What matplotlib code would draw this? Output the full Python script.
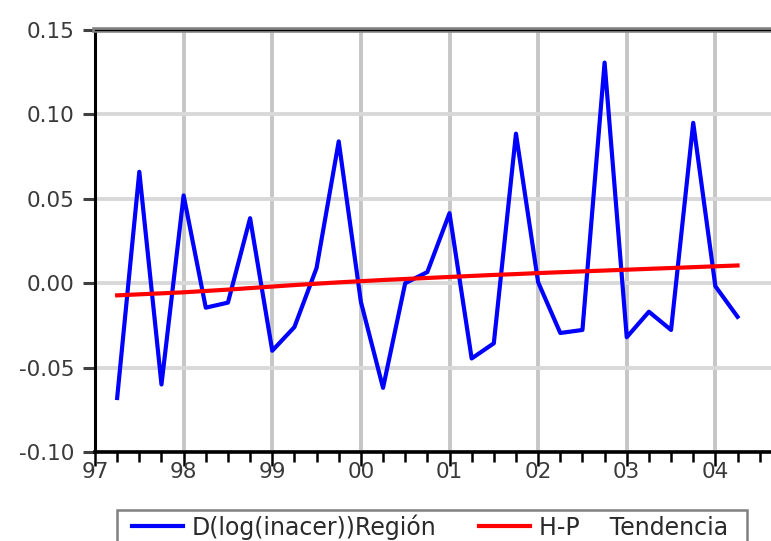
import matplotlib.pyplot as plt
import matplotlib.patches as mpatches
import pandas as pd

# quarterly series, 1997Q2 - 2004Q2
quarters = pd.period_range('1997Q2', '2004Q2', freq='Q')

region = [-0.068, 0.066, -0.060, 0.052, -0.0145, -0.0115, 0.0385, -0.040,
          -0.026, 0.009, 0.084, -0.011, -0.062, 0.000, 0.0066, 0.0415,
          -0.0446, -0.0356, 0.0886, 0.0006, -0.0295, -0.0277, 0.1307, -0.032,
          -0.0169, -0.0277, 0.095, -0.0018, -0.0199]

hp_trend = [-0.0072, -0.0066, -0.0060, -0.0054, -0.0046, -0.0038, -0.0029, -0.0020,
            -0.0011, -0.0003, 0.0005, 0.0012, 0.0019, 0.0025, 0.0031, 0.0037,
            0.0043, 0.0049, 0.0054, 0.0060, 0.0065, 0.0070, 0.0075, 0.0080,
            0.0085, 0.0090, 0.0095, 0.0100, 0.0105]

years = list(range(1997, 2005))
year_labels = ['97', '98', '99', '00', '01', '02', '03', '04']
y_ticks = [-0.10, -0.05, 0.00, 0.05, 0.10, 0.15]
y_labels = ['-0.10', '-0.05', '0.00', '0.05', '0.10', '0.15']

x = quarters.year + (quarters.quarter - 1) / 4

fig = plt.figure(figsize=(7.71, 5.41), dpi=100)
ax = fig.add_axes([95 / 771, 89 / 541, 709 / 771, 422 / 541])

ax.plot(x, region, color='#0000ff', lw=3.0, label='D(log(inacer))Región', zorder=3)
ax.plot(x, hp_trend, color='#ff0000', lw=3.0, label='H-P    Tendencia', zorder=4)

ax.set_xlim(1997, 2005)
ax.set_ylim(-0.10, 0.15)

ax.set_xticks(years)
ax.set_xticklabels(year_labels)
ax.set_xticks([yr + q / 4 for yr in years for q in (1, 2, 3)], minor=True)
ax.set_yticks(y_ticks)
ax.set_yticklabels(y_labels)

ax.xaxis.grid(True, color='#c6c6c6', lw=2.8, zorder=0)
ax.yaxis.grid(True, color='#d8d8d8', lw=2.8, zorder=0)
ax.set_axisbelow(True)

ax.tick_params(axis='x', which='major', direction='out', length=10, width=1.8,
               color='black', pad=-3, labelsize=15.5, labelcolor='#3a3a3a')
ax.tick_params(axis='x', which='minor', direction='out', length=7, width=1.8,
               color='black')
ax.tick_params(axis='y', direction='out', length=9, width=2.2, color='#404040',
               pad=6, labelsize=15.5, labelcolor='#3a3a3a')

ax.spines['right'].set_visible(False)
ax.spines['left'].set_color('black')
ax.spines['left'].set_linewidth(2.2)
ax.spines['bottom'].set_color('black')
ax.spines['bottom'].set_linewidth(2.6)
ax.spines['top'].set_color('#808080')
ax.spines['top'].set_linewidth(4)
ax.axhline(0.15, color='black', lw=0.8, clip_on=False, zorder=5)

# legend box at the bottom of the figure
frame = mpatches.Rectangle((117 / 771, -0.05), 630 / 771, 31 / 541 + 0.05,
                           transform=fig.transFigure, fill=False,
                           edgecolor='#808080', lw=1.8, clip_on=False)
fig.patches.append(frame)

handles, labels = ax.get_legend_handles_labels()
fig.legend(handles, labels, loc='center left', bbox_to_anchor=(132 / 771, 14 / 541),
           ncol=2, frameon=False, borderpad=0, borderaxespad=0,
           handlelength=2.15, handletextpad=0.38, columnspacing=1.8,
           prop={'size': 17}, labelcolor='#2a2a2a')

fig.savefig('out.png', dpi=100)
